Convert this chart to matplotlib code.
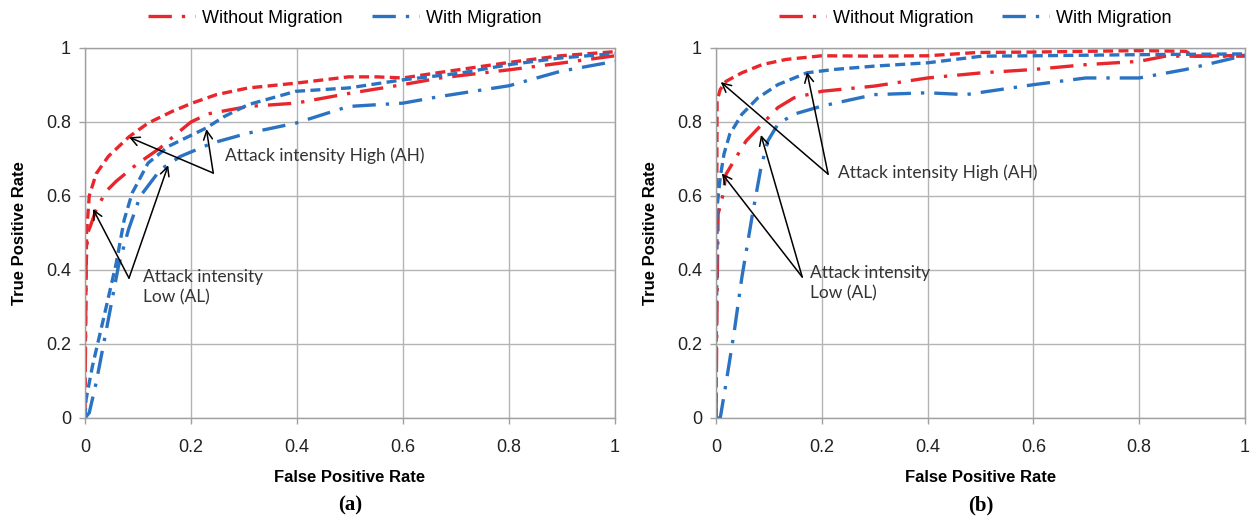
import matplotlib.pyplot as plt
from matplotlib.lines import Line2D

# ROC curves, (a) and (b)
# panel (a)
a_ah_wo_fpr = [0, 0.001, 0.003, 0.008, 0.021, 0.044, 0.083, 0.119, 0.165, 0.202, 0.248, 0.308, 0.398, 0.497, 0.55, 0.6, 0.67, 0.8, 0.897, 1.0]
a_ah_wo_tpr = [0, 0.25, 0.5, 0.6, 0.66, 0.707, 0.76, 0.797, 0.829, 0.851, 0.874, 0.892, 0.905, 0.922, 0.922, 0.919, 0.934, 0.961, 0.979, 0.99]

a_al_wo_fpr = [0, 0.002, 0.005, 0.01, 0.021, 0.04, 0.059, 0.097, 0.142, 0.17, 0.2, 0.232, 0.308, 0.398, 0.497, 0.6, 0.67, 0.8, 0.897, 1.0]
a_al_wo_tpr = [0, 0.41, 0.5, 0.518, 0.563, 0.613, 0.64, 0.685, 0.73, 0.765, 0.8, 0.822, 0.842, 0.851, 0.877, 0.901, 0.919, 0.941, 0.959, 0.979]

a_ah_w_fpr = [0, 0.002, 0.014, 0.036, 0.059, 0.074, 0.089, 0.119, 0.157, 0.229, 0.263, 0.308, 0.398, 0.497, 0.6, 0.708, 0.8, 0.897, 1.0]
a_ah_w_tpr = [0, 0.05, 0.14, 0.275, 0.419, 0.536, 0.608, 0.689, 0.734, 0.784, 0.815, 0.847, 0.883, 0.892, 0.914, 0.932, 0.955, 0.973, 0.985]

a_al_w_fpr = [0, 0.008, 0.021, 0.044, 0.063, 0.082, 0.104, 0.142, 0.18, 0.24, 0.308, 0.398, 0.497, 0.6, 0.67, 0.8, 0.897, 1.0]
a_al_w_tpr = [0, 0.014, 0.095, 0.266, 0.41, 0.509, 0.599, 0.671, 0.707, 0.743, 0.77, 0.797, 0.842, 0.851, 0.869, 0.898, 0.937, 0.964]

# panel (b)
b_ah_wo_fpr = [0, 0.001, 0.002, 0.008, 0.019, 0.049, 0.087, 0.132, 0.2, 0.299, 0.4, 0.495, 0.601, 0.8, 0.888, 0.903, 1.0]
b_ah_wo_tpr = [0, 0.408, 0.857, 0.888, 0.91, 0.933, 0.955, 0.969, 0.979, 0.978, 0.979, 0.988, 0.989, 0.993, 0.991, 0.978, 0.98]

b_al_wo_fpr = [0, 0.002, 0.004, 0.011, 0.019, 0.034, 0.057, 0.087, 0.117, 0.147, 0.2, 0.299, 0.4, 0.503, 0.601, 0.699, 0.8, 0.85, 1.0]
b_al_wo_tpr = [0, 0.318, 0.552, 0.587, 0.659, 0.695, 0.749, 0.794, 0.839, 0.865, 0.883, 0.897, 0.919, 0.933, 0.942, 0.955, 0.964, 0.978, 0.978]

b_ah_w_fpr = [0, 0.001, 0.002, 0.008, 0.015, 0.026, 0.049, 0.079, 0.117, 0.172, 0.223, 0.299, 0.4, 0.503, 0.601, 0.8, 1.0]
b_ah_w_tpr = [0, 0.318, 0.57, 0.65, 0.713, 0.767, 0.821, 0.865, 0.901, 0.933, 0.942, 0.951, 0.96, 0.978, 0.979, 0.982, 0.984]

b_al_w_fpr = [0, 0.008, 0.019, 0.034, 0.049, 0.068, 0.085, 0.098, 0.117, 0.147, 0.2, 0.299, 0.4, 0.472, 0.601, 0.699, 0.8, 0.888, 1.0]
b_al_w_tpr = [0, 0, 0.094, 0.229, 0.381, 0.543, 0.677, 0.749, 0.794, 0.821, 0.843, 0.874, 0.879, 0.874, 0.901, 0.919, 0.919, 0.942, 0.98]

series_labels = ['Without Migration', 'With Migration']
ah_text = 'Attack intensity High (AH)'
al_text = 'Attack intensity\nLow (AL)'
panel_tags = ['(a)', '(b)']
ticks = [0, 0.2, 0.4, 0.6, 0.8, 1]
tick_labels = ['0', '0.2', '0.4', '0.6', '0.8', '1']

RED = '#e8262b'
BLUE = '#2a73c2'
DASH = (0, (3, 1.6))
DASHDOT = (0, (7, 3, 1, 3))
LW = 2.4

plt.rcParams['font.family'] = ['Liberation Sans', 'DejaVu Sans']

fig = plt.figure(figsize=(12.52, 5.2), dpi=100)
ax_a = fig.add_axes([85 / 1252, 1 - 418 / 520, 530 / 1252, 370 / 520])
ax_b = fig.add_axes([716 / 1252, 1 - 418 / 520, 529 / 1252, 370 / 520])

panels = [
    (ax_a, [(a_ah_wo_fpr, a_ah_wo_tpr, RED, DASH), (a_al_wo_fpr, a_al_wo_tpr, RED, DASHDOT),
            (a_ah_w_fpr, a_ah_w_tpr, BLUE, DASH), (a_al_w_fpr, a_al_w_tpr, BLUE, DASHDOT)],
     dict(ah_xy=(0.264, 0.709), ah_tail=(0.242, 0.662), ah_heads=[(0.083, 0.759), (0.229, 0.781)],
          al_xy=(0.109, 0.354), al_tail=(0.083, 0.378), al_heads=[(0.015, 0.565), (0.157, 0.683)])),
    (ax_b, [(b_ah_wo_fpr, b_ah_wo_tpr, RED, DASH), (b_al_wo_fpr, b_al_wo_tpr, RED, DASHDOT),
            (b_ah_w_fpr, b_ah_w_tpr, BLUE, DASH), (b_al_w_fpr, b_al_w_tpr, BLUE, DASHDOT)],
     dict(ah_xy=(0.231, 0.662), ah_tail=(0.212, 0.659), ah_heads=[(0.009, 0.908), (0.172, 0.935)],
          al_xy=(0.178, 0.365), al_tail=(0.163, 0.381), al_heads=[(0.011, 0.661), (0.085, 0.765)])),
]

for i, (ax, curves, ann) in enumerate(panels):
    for x, y, c, ls in curves:
        ax.plot(x, y, color=c, linestyle=ls, lw=LW, solid_capstyle='butt', dash_capstyle='butt')

    ax.set_xlim(0, 1)
    ax.set_ylim(0, 1)
    ax.set_xticks(ticks)
    ax.set_yticks(ticks)
    ax.set_xticklabels(tick_labels)
    ax.set_yticklabels(tick_labels)
    ax.tick_params(length=4, width=1, color='#a0a0a0', labelsize=13, labelcolor='#222222')
    ax.tick_params(axis='x', pad=11)
    ax.tick_params(axis='y', pad=6)
    ax.grid(True, color='#b4b4b4', lw=1)
    ax.set_axisbelow(True)
    for s in ax.spines.values():
        s.set_color('#a0a0a0')
        s.set_linewidth(1)

    ax.set_xlabel('False Positive Rate', fontsize=12, fontweight='bold')
    ax.set_ylabel('True Positive Rate', fontsize=12, fontweight='bold')
    ax.xaxis.set_label_coords(0.5, -0.16)
    ax.xaxis.label.set_va('center')
    ax.yaxis.set_label_coords(-0.123, 0.5)
    ax.yaxis.label.set_va('center')

    ax.text(*ann['ah_xy'], ah_text, fontsize=12.5, family='Lato', color='#333333', va='center', ha='left')
    ax.text(*ann['al_xy'], al_text, fontsize=12.5, family='Lato', color='#333333', va='center', ha='left',
            linespacing=1.3)
    for key in ('ah', 'al'):
        for head in ann[key + '_heads']:
            ax.annotate('', xy=head, xytext=ann[key + '_tail'],
                        arrowprops=dict(arrowstyle='->', lw=1.1, color='black', shrinkA=0, shrinkB=0,
                                        mutation_scale=16))

    handles = [Line2D([], [], color=RED, lw=LW, linestyle=DASHDOT),
               Line2D([], [], color=BLUE, lw=LW, linestyle=DASHDOT)]
    ax.legend(handles, series_labels, loc='center', bbox_to_anchor=(0.49, 1.081), ncol=2, frameon=False,
              fontsize=13, handlelength=2.6, handletextpad=0.4, columnspacing=1.6, borderaxespad=0)

    pos = ax.get_position()
    fig.text((pos.x0 + pos.x1) / 2, 0.028, panel_tags[i], family='Liberation Serif', fontweight='bold',
             fontsize=15, ha='center', va='center')

fig.savefig('out.png', dpi=100)
